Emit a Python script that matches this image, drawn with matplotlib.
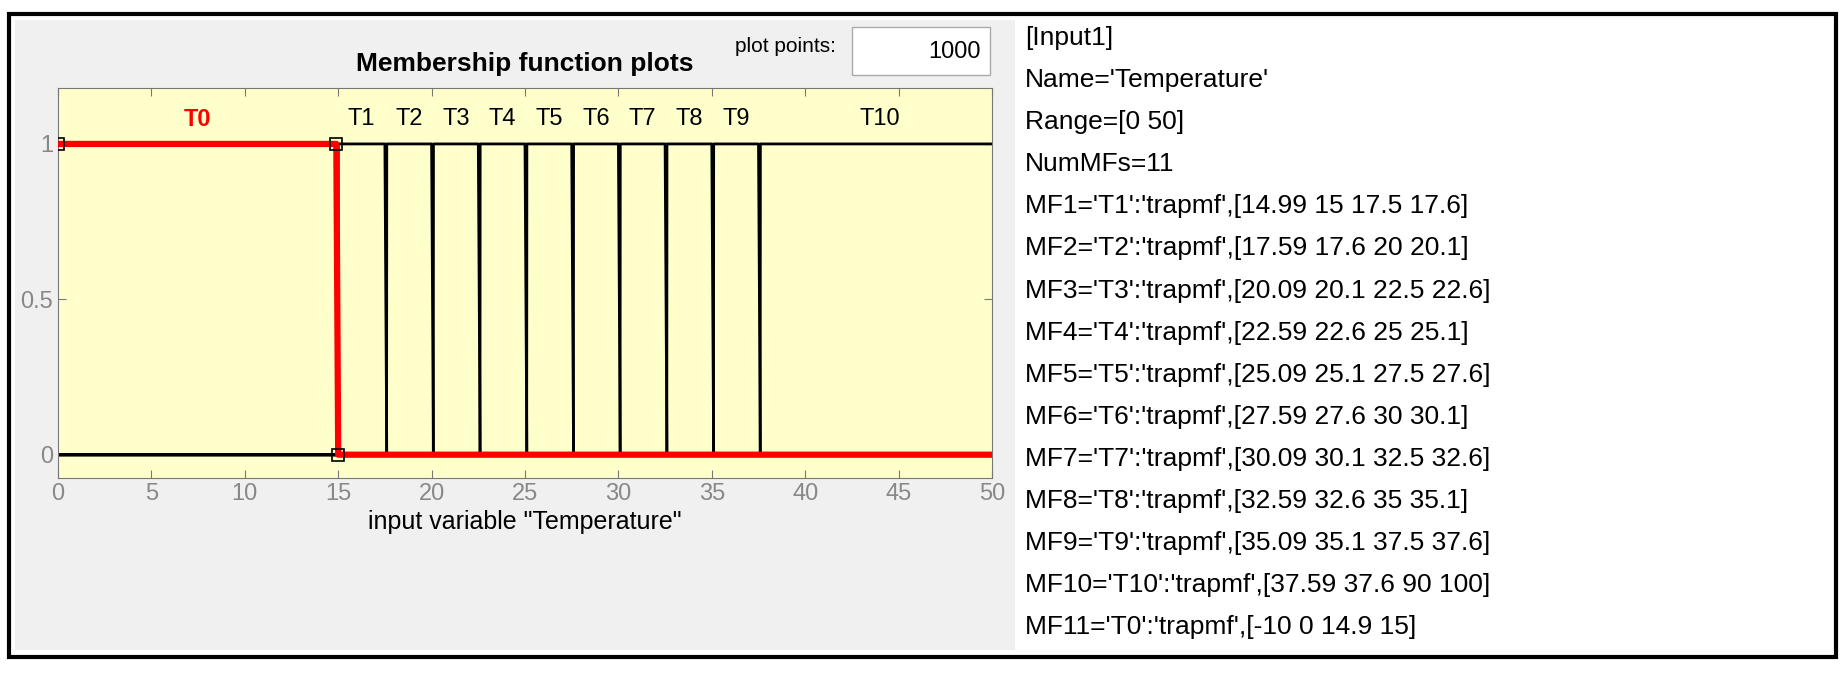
import matplotlib
matplotlib.use("Agg")
import matplotlib.pyplot as plt
import numpy as np
from matplotlib.patches import Rectangle

names = ['T1','T2','T3','T4','T5','T6','T7','T8','T9','T10','T0']
params = [[14.99,15,17.5,17.6],[17.59,17.6,20,20.1],[20.09,20.1,22.5,22.6],
          [22.59,22.6,25,25.1],[25.09,25.1,27.5,27.6],[27.59,27.6,30,30.1],
          [30.09,30.1,32.5,32.6],[32.59,32.6,35,35.1],[35.09,35.1,37.5,37.6],
          [37.59,37.6,90,100],[-10,0,14.9,15]]
info_lines = ["[Input1]", "Name='Temperature'", "Range=[0 50]", "NumMFs=11"] + \
    [f"MF{i+1}='{n}':'trapmf',[{' '.join(f'{v:g}' for v in p)}]" for i,(n,p) in enumerate(zip(names, params))]

def trap(x, a, b, c, d):
    y = np.zeros_like(x)
    y = np.where((x >= b) & (x <= c), 1.0, y)
    if b > a:
        m = (x > a) & (x < b); y = np.where(m, (x - a) / (b - a), y)
    if d > c:
        m = (x > c) & (x < d); y = np.where(m, (d - x) / (d - c), y)
    return y

fig = plt.figure(figsize=(18.44, 6.73), dpi=100)
fig.patch.set_facecolor('white')
W, H = 1844, 673
def fr(x0, y0, x1, y1):
    return (x0/W, 1-y1/H, (x1-x0)/W, (y1-y0)/H)
def rect(box, **kw):
    r = fr(*box)
    fig.patches.append(Rectangle(r[:2], r[2], r[3], transform=fig.transFigure, **kw))
rect((15,20,1015,650), facecolor='#f0f0f0', edgecolor='none', zorder=-5)
rect((9,14,1836,657), facecolor='none', edgecolor='black', lw=3, zorder=5)
rect((852,27,990,75), facecolor='white', edgecolor='#aaaaaa', lw=1, zorder=1)
fig.text(992/W - 0.006, 1-52/H, '1000', ha='right', va='center', fontsize=17, family='Liberation Sans', zorder=3)
fig.text(836/W, 1-46/H, 'plot points:', ha='right', va='center', fontsize=15, family='Liberation Sans', zorder=3)

ax = fig.add_axes(fr(58, 88, 992, 478))
ax.set_zorder(10)
ax.set_facecolor('#ffffcc')
x = np.linspace(0, 50, 5001)
for n, p in zip(names, params):
    col = 'red' if n == 'T0' else 'black'
    lw = 4.5 if n == 'T0' else 2
    y = trap(x, *p)
    ax.plot(x, y, color=col, lw=lw, zorder=3 if n == 'T0' else 2)
    a, b, c, d = p
    cx = (max(b, 0) + min(c, 50)) / 2
    if n == 'T10':
        cx = 44
    ax.text(cx, 1.08, n, ha='center', va='center', fontsize=17, color=col,
            fontweight='bold' if n == 'T0' else 'normal', family='Liberation Sans')
ax.plot([0, 14.9, 15], [1, 1, 0], ls='none', marker='s', ms=9, mfc='none', mec='black', mew=1.2, zorder=4)
ax.set_xlim(0, 50)
ax.set_ylim(-0.075, 1.18)
ax.set_xticks(np.arange(0, 51, 5))
ax.set_yticks([0, 0.5, 1])
ax.set_yticklabels(['0', '0.5', '1'])
ax.tick_params(axis='both', labelsize=17, colors='#777777', labelcolor='#888888', direction='in', top=True, right=True, length=6)
for s in ax.spines.values():
    s.set_color('#777777')
ax.set_title('Membership function plots', fontsize=19, fontweight='bold', family='Liberation Sans', pad=12)
ax.set_xlabel('input variable "Temperature"', fontsize=18, family='Liberation Sans')
for lab in ax.get_xticklabels() + ax.get_yticklabels():
    lab.set_family('Liberation Sans')

for i, line in enumerate(info_lines):
    fig.text(1025/W, 1-(38 + i*42.1)/H, line, ha='left', va='center', fontsize=19, family='Liberation Sans')

fig.savefig('out.png', dpi=100)
